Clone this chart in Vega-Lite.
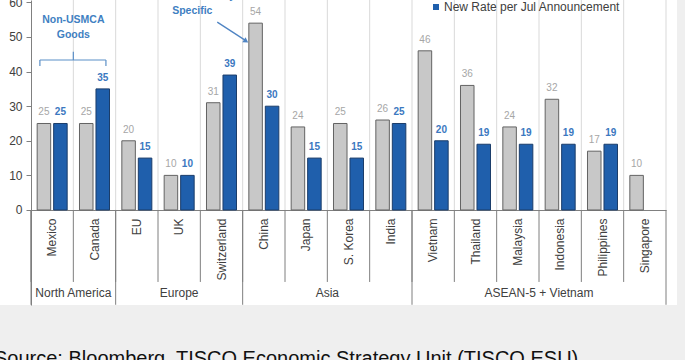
{
  "$schema": "https://vega.github.io/schema/vega-lite/v6.json",
  "width": 677,
  "height": 305,
  "autosize": {"type": "none"},
  "padding": {"left": 0, "top": 0, "right": 8, "bottom": 55},
  "background": "#efefef",
  "config": {"view": {"fill": "white", "stroke": null}, "font": "Liberation Sans"},
  "title": {"text": "Source: Bloomberg, TISCO Economic Strategy Unit (TISCO ESU)", "orient": "bottom", "anchor": "start", "frame": "group", "offset": 44, "dx": -6, "fontSize": 20, "fontWeight": "normal", "color": "#111111", "baseline": "top", "font": "Liberation Sans"},
  "datasets": {
    "rates": [
      {"country": "Mexico", "series": "Rate per Apr Announcement", "value": 25},
      {"country": "Mexico", "series": "New Rate per Jul Announcement", "value": 25},
      {"country": "Canada", "series": "Rate per Apr Announcement", "value": 25},
      {"country": "Canada", "series": "New Rate per Jul Announcement", "value": 35},
      {"country": "EU", "series": "Rate per Apr Announcement", "value": 20},
      {"country": "EU", "series": "New Rate per Jul Announcement", "value": 15},
      {"country": "UK", "series": "Rate per Apr Announcement", "value": 10},
      {"country": "UK", "series": "New Rate per Jul Announcement", "value": 10},
      {"country": "Switzerland", "series": "Rate per Apr Announcement", "value": 31},
      {"country": "Switzerland", "series": "New Rate per Jul Announcement", "value": 39},
      {"country": "China", "series": "Rate per Apr Announcement", "value": 54},
      {"country": "China", "series": "New Rate per Jul Announcement", "value": 30},
      {"country": "Japan", "series": "Rate per Apr Announcement", "value": 24},
      {"country": "Japan", "series": "New Rate per Jul Announcement", "value": 15},
      {"country": "S. Korea", "series": "Rate per Apr Announcement", "value": 25},
      {"country": "S. Korea", "series": "New Rate per Jul Announcement", "value": 15},
      {"country": "India", "series": "Rate per Apr Announcement", "value": 26},
      {"country": "India", "series": "New Rate per Jul Announcement", "value": 25},
      {"country": "Vietnam", "series": "Rate per Apr Announcement", "value": 46},
      {"country": "Vietnam", "series": "New Rate per Jul Announcement", "value": 20},
      {"country": "Thailand", "series": "Rate per Apr Announcement", "value": 36},
      {"country": "Thailand", "series": "New Rate per Jul Announcement", "value": 19},
      {"country": "Malaysia", "series": "Rate per Apr Announcement", "value": 24},
      {"country": "Malaysia", "series": "New Rate per Jul Announcement", "value": 19},
      {"country": "Indonesia", "series": "Rate per Apr Announcement", "value": 32},
      {"country": "Indonesia", "series": "New Rate per Jul Announcement", "value": 19},
      {"country": "Philippines", "series": "Rate per Apr Announcement", "value": 17},
      {"country": "Philippines", "series": "New Rate per Jul Announcement", "value": 19},
      {"country": "Singapore", "series": "Rate per Apr Announcement", "value": 10}
    ],
    "groups": [
      {"group": "North America", "at": "Mexico"},
      {"group": "Europe", "at": "UK"},
      {"group": "Asia", "at": "Japan"},
      {"group": "ASEAN-5 + Vietnam", "at": "Malaysia"}
    ],
    "arrow": [
      {"from": "Switzerland", "to": "China"}
    ]
  },
  "data": {"name": "rates"},
  "layer": [
    {
      "transform": [{"filter": "datum.series === 'Rate per Apr Announcement' && datum.country !== 'Mexico'"}],
      "mark": {"type": "rule", "color": "#d9d9d9", "strokeWidth": 1},
      "encoding": {
        "x": {"field": "country", "type": "nominal", "bandPosition": 0, "title": null, "scale": {"domain": ["Mexico","Canada","EU","UK","Switzerland","China","Japan","S. Korea","India","Vietnam","Thailand","Malaysia","Indonesia","Philippines","Singapore"], "range": [31, 666], "paddingInner": 0, "paddingOuter": 0}},
        "y": {"datum": 0},
        "y2": {"datum": 61}
      }
    },
    {
      "transform": [{"filter": "datum.series === 'Rate per Apr Announcement' && datum.country === 'Singapore'"}],
      "mark": {"type": "rule", "color": "#d9d9d9", "strokeWidth": 1},
      "encoding": {
        "x": {"field": "country", "type": "nominal", "bandPosition": 1, "title": null},
        "y": {"datum": 0},
        "y2": {"datum": 61}
      }
    },
    {
      "transform": [{"filter": "datum.series === 'Rate per Apr Announcement'"}],
      "mark": {"type": "rule", "color": "#7f7f7f", "strokeWidth": 1},
      "encoding": {
        "x": {"field": "country", "type": "nominal", "bandPosition": 0, "title": null},
        "y": {"datum": 0},
        "y2": {"datum": -20.8}
      }
    },
    {
      "transform": [{"filter": "datum.series === 'Rate per Apr Announcement' && indexof(['Mexico','EU','China','Vietnam'], datum.country) >= 0"}],
      "mark": {"type": "rule", "color": "#7f7f7f", "strokeWidth": 1},
      "encoding": {
        "x": {"field": "country", "type": "nominal", "bandPosition": 0, "title": null},
        "y": {"datum": 0},
        "y2": {"datum": -27.4}
      }
    },
    {
      "transform": [{"filter": "datum.series === 'Rate per Apr Announcement' && datum.country === 'Singapore'"}],
      "mark": {"type": "rule", "color": "#7f7f7f", "strokeWidth": 1},
      "encoding": {
        "x": {"field": "country", "type": "nominal", "bandPosition": 1, "title": null},
        "y": {"datum": 0},
        "y2": {"datum": -27.4}
      }
    },
    {
      "mark": {"type": "bar", "strokeWidth": 1},
      "encoding": {
        "x": {"field": "country", "type": "nominal", "title": null, "scale": {"domain": ["Mexico","Canada","EU","UK","Switzerland","China","Japan","S. Korea","India","Vietnam","Thailand","Malaysia","Indonesia","Philippines","Singapore"], "range": [31, 666], "paddingInner": 0, "paddingOuter": 0},
          "axis": {"orient": "bottom", "offset": -95, "title": null, "ticks": false, "grid": false, "domainColor": "#808080", "labelAngle": -90, "labelPadding": 8, "labelFontSize": 12, "labelColor": "#404040", "labelOverlap": false, "labelBound": false, "labelFont": "Liberation Sans"}},
        "xOffset": {"field": "series", "type": "nominal", "scale": {"domain": ["Rate per Apr Announcement", "New Rate per Jul Announcement"], "paddingInner": 0.18, "paddingOuter": 0.374}},
        "y": {"field": "value", "type": "quantitative", "scale": {"domain": [-27.46, 60.69], "nice": false, "zero": false},
          "axis": {"orient": "left", "offset": -31, "values": [0, 10, 20, 30, 40, 50, 60], "title": null, "grid": false, "domainColor": "#808080", "tickColor": "#808080", "tickSize": 5, "labelFontSize": 12, "labelColor": "#404040", "labelPadding": 4, "labelFont": "Liberation Sans"}},
        "color": {"field": "series", "type": "nominal", "scale": {"domain": ["Rate per Apr Announcement", "New Rate per Jul Announcement"], "range": ["#c8c8c8", "#1f5fac"]},
          "legend": {"orient": "none", "legendX": 430, "legendY": 1, "direction": "vertical", "title": null, "values": ["New Rate per Jul Announcement"], "symbolType": "square", "symbolSize": 36, "symbolStrokeWidth": 0, "labelFontSize": 12, "labelColor": "#404040", "labelOffset": 2, "labelLimit": 400, "padding": 0, "labelFont": "Liberation Sans"}},
        "stroke": {"field": "series", "type": "nominal", "scale": {"domain": ["Rate per Apr Announcement", "New Rate per Jul Announcement"], "range": ["#636363", "#1b3d6a"]}, "legend": null}
      }
    },
    {
      "transform": [{"filter": "datum.series === 'Rate per Apr Announcement'"}],
      "mark": {"type": "text", "baseline": "bottom", "dy": -6, "fontSize": 10, "color": "#a6a6a6", "font": "Liberation Sans"},
      "encoding": {
        "x": {"field": "country", "type": "nominal", "title": null},
        "xOffset": {"field": "series", "type": "nominal"},
        "y": {"field": "value", "type": "quantitative"},
        "text": {"field": "value", "type": "quantitative"}
      }
    },
    {
      "transform": [{"filter": "datum.series === 'New Rate per Jul Announcement'"}],
      "mark": {"type": "text", "baseline": "bottom", "dy": -6, "fontSize": 10, "fontWeight": "bold", "color": "#3b78c0", "font": "Liberation Sans"},
      "encoding": {
        "x": {"field": "country", "type": "nominal", "title": null},
        "xOffset": {"field": "series", "type": "nominal"},
        "y": {"field": "value", "type": "quantitative"},
        "text": {"field": "value", "type": "quantitative"}
      }
    },
    {
      "data": {"name": "groups"},
      "transform": [{"filter": "datum.group !== 'Europe'"}],
      "mark": {"type": "text", "baseline": "middle", "align": "center", "fontSize": 12, "color": "#404040", "font": "Liberation Sans"},
      "encoding": {
        "x": {"field": "at", "type": "nominal", "bandPosition": 1, "title": null},
        "y": {"datum": -24.0},
        "text": {"field": "group", "type": "nominal"}
      }
    },
    {
      "data": {"name": "groups"},
      "transform": [{"filter": "datum.group === 'Europe'"}],
      "mark": {"type": "text", "baseline": "middle", "align": "center", "fontSize": 12, "color": "#404040", "font": "Liberation Sans"},
      "encoding": {
        "x": {"field": "at", "type": "nominal", "bandPosition": 0.5, "title": null},
        "y": {"datum": -24.0},
        "text": {"field": "group", "type": "nominal"}
      }
    },
    {
      "data": {"values": [{}]},
      "mark": {"type": "text", "text": ["Non-USMCA", "Goods"], "baseline": "top", "align": "center", "fontSize": 10.5, "fontWeight": "bold", "lineHeight": 15, "color": "#3f7fc2", "font": "Liberation Sans"},
      "encoding": {
        "x": {"datum": "Mexico", "type": "nominal", "bandPosition": 1},
        "y": {"datum": 56.4}
      }
    },
    {
      "data": {"values": [{}]},
      "mark": {"type": "rule", "color": "#5b8fc7", "strokeWidth": 1.2},
      "encoding": {
        "x": {"datum": "Mexico", "type": "nominal", "bandPosition": 0.21},
        "x2": {"datum": "Canada", "bandPosition": 0.77},
        "y": {"datum": 43.35}
      }
    },
    {
      "data": {"values": [{}]},
      "mark": {"type": "rule", "color": "#5b8fc7", "strokeWidth": 1.2},
      "encoding": {
        "x": {"datum": "Mexico", "type": "nominal", "bandPosition": 0.21},
        "y": {"datum": 43.35},
        "y2": {"datum": 41.6}
      }
    },
    {
      "data": {"values": [{}]},
      "mark": {"type": "rule", "color": "#5b8fc7", "strokeWidth": 1.2},
      "encoding": {
        "x": {"datum": "Canada", "type": "nominal", "bandPosition": 0.77},
        "y": {"datum": 43.35},
        "y2": {"datum": 41.6}
      }
    },
    {
      "data": {"values": [{}]},
      "mark": {"type": "rule", "color": "#5b8fc7", "strokeWidth": 1.2},
      "encoding": {
        "x": {"datum": "Mexico", "type": "nominal", "bandPosition": 1},
        "y": {"datum": 43.35},
        "y2": {"datum": 45.7}
      }
    },
    {
      "data": {"values": [{}]},
      "mark": {"type": "text", "text": ["Includes Country", "Specific"], "baseline": "top", "align": "center", "fontSize": 10.5, "fontWeight": "bold", "lineHeight": 15, "color": "#3f7fc2", "font": "Liberation Sans"},
      "encoding": {
        "x": {"datum": "UK", "type": "nominal", "bandPosition": 0.81},
        "y": {"datum": 63.3}
      }
    },
    {
      "data": {"name": "arrow"},
      "mark": {"type": "rule", "color": "#4f84c3", "strokeWidth": 1.3},
      "encoding": {
        "x": {"field": "from", "type": "nominal", "bandPosition": 0.4, "title": null},
        "x2": {"field": "to", "bandPosition": 0.055},
        "y": {"datum": 54.3},
        "y2": {"datum": 49.1}
      }
    },
    {
      "data": {"name": "arrow"},
      "mark": {"type": "point", "shape": "triangle-right", "angle": 34, "size": 35, "filled": true, "color": "#4f84c3", "opacity": 1},
      "encoding": {
        "x": {"field": "to", "type": "nominal", "bandPosition": 0.08, "title": null},
        "y": {"datum": 48.8}
      }
    }
  ]
}
